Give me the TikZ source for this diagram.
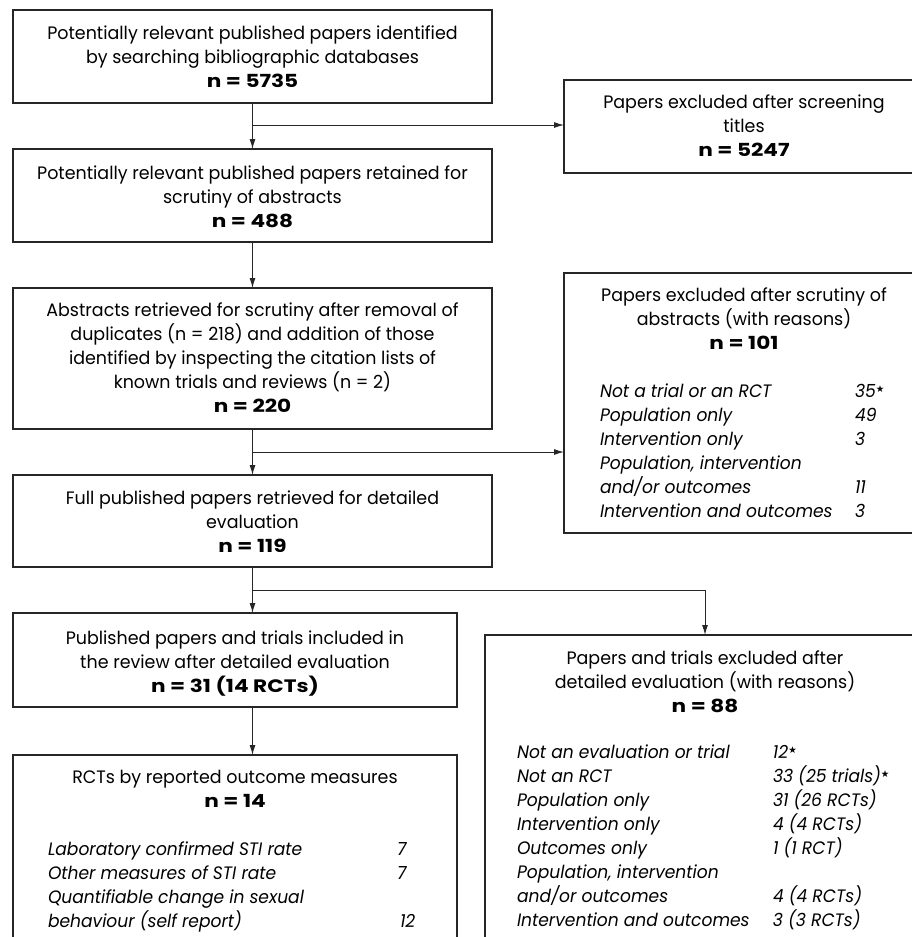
\documentclass[tikz,border=0pt]{standalone}
\usepackage{fontspec}
\usepackage{array}
\setmainfont{Poppins}[UprightFeatures={FakeStretch=0.97}, ItalicFeatures={FakeStretch=0.95}, BoldFeatures={FakeStretch=1.2}]
\newfontfamily\starfont{DejaVu Sans}
\usetikzlibrary{arrows.meta}
\newcommand{\fstar}{\raisebox{5pt}{\starfont\fontsize{9.5}{9.5}\selectfont ★}}
\tikzset{
  box/.style={draw=black!85, line width=1.3pt, inner sep=0pt, outer sep=0pt, fill=none},
  txt/.style={inner sep=0pt, outer sep=0pt, align=center, font=\fontsize{18}{24}\selectfont},
  lst/.style={inner sep=0pt, outer sep=0pt, font=\fontsize{18}{24}\selectfont\itshape},
  conn/.style={draw=black!85, line width=1pt},
  arr/.style={conn, -{Latex[length=10pt,width=6pt]}}
}
\begin{document}
\begin{tikzpicture}[x=1pt,y=-1pt]
\useasboundingbox (0,0) rectangle (912,937);
\clip (0,0) rectangle (912,937);
% boxes
\node[box, minimum width=479pt, minimum height=93pt] (b1) at (252.5,56.5) {};
\node[box, minimum width=479pt, minimum height=93pt] (b2) at (252.5,195.5) {};
\node[box, minimum width=479pt, minimum height=141pt] (b3) at (252.5,358.5) {};
\node[box, minimum width=479pt, minimum height=92pt] (b4) at (252.5,521) {};
\node[box, minimum width=444pt, minimum height=94pt] (b5) at (235,660) {};
\node[box, minimum width=444pt, minimum height=200pt] (b6) at (235,855) {};
\node[box, minimum width=360pt, minimum height=93pt] (e1) at (744,126.5) {};
\node[box, minimum width=360pt, minimum height=260pt] (e2) at (744,403) {};
\node[box, minimum width=440pt, minimum height=320pt] (e3) at (705,795) {};
% texts (anchored at the baseline of their last line)
\node[txt, anchor=base] (t1) at (252.5,87) {Potentially relevant published papers identified\\by searching bibliographic databases\\\textbf{n = 5735}};
\node[txt, anchor=base] (t2) at (252.5,227) {Potentially relevant published papers retained for\\scrutiny of abstracts\\\textbf{n = 488}};
\node[txt, anchor=base] (t3) at (252.5,412) {Abstracts retrieved for scrutiny after removal of\\duplicates (n = 218) and addition of those\\identified by inspecting the citation lists of\\known trials and reviews (n = 2)\\\textbf{n = 220}};
\node[txt, anchor=base] (t4) at (252.5,552) {Full published papers retrieved for detailed\\evaluation\\\textbf{n = 119}};
\node[txt, anchor=base] (t5) at (235,692) {Published papers and trials included in\\the review after detailed evaluation\\\textbf{n = 31 (14 RCTs)}};
\node[txt, anchor=base] (t6) at (235,807) {RCTs by reported outcome measures\\\textbf{n = 14}};
\node[txt, anchor=base] (te1) at (744,156) {Papers excluded after screening\\titles\\\textbf{n = 5247}};
\node[txt, anchor=base] (te2) at (744,349) {Papers excluded after scrutiny of\\abstracts (with reasons)\\\textbf{n = 101}};
\node[txt, anchor=base] (te3) at (705,712) {Papers and trials excluded after\\detailed evaluation (with reasons)\\\textbf{n = 88}};
% lists
\node[lst, anchor=base west] (le2) at (600,397) {\begin{tabular}[t]{@{}p{255pt}@{}l@{}}
Not a trial or an RCT & 35\fstar\\
Population only & 49\\
Intervention only & 3\\
Population, intervention & \\
and/or outcomes & 11\\
Intervention and outcomes & 3
\end{tabular}};
\node[lst, anchor=base west] (le3) at (517,758) {\begin{tabular}[t]{@{}p{256pt}@{}l@{}}
Not an evaluation or trial & 12\fstar\\
Not an RCT & 33 (25 trials)\fstar\\
Population only & 31 (26 RCTs)\\
Intervention only & 4 (4 RCTs)\\
Outcomes only & 1 (1 RCT)\\
Population, intervention & \\
and/or outcomes & 4 (4 RCTs)\\
Intervention and outcomes & 3 (3 RCTs)
\end{tabular}};
\node[lst, anchor=base west] (l6) at (48,855) {\begin{tabular}[t]{@{}p{349pt}@{}l@{}}
Laboratory confirmed STI rate & 7\\
Other measures of STI rate & 7\\
Quantifiable change in sexual & \\
behaviour (self report) & \hspace{3pt}12
\end{tabular}};
% connectors
\coordinate (j1) at (b1.south |- 0,125);
\coordinate (j2) at (b3.south |- 0,452);
\coordinate (j3) at (b4.south |- 0,590);
\draw[arr] (b1.south) -- (b2.north);
\draw[arr] (j1) -- (j1 -| e1.west);
\draw[arr] (b2.south) -- (b3.north);
\draw[arr] (b3.south) -- (b4.north);
\draw[arr] (j2) -- (j2 -| e2.west);
\draw[arr] (b4.south) -- (b4.south |- b5.north);
\draw[arr] (j3) -| (e3.north);
\draw[arr] (b4.south |- b5.south) -- (b4.south |- b6.north);
\end{tikzpicture}
\end{document}
